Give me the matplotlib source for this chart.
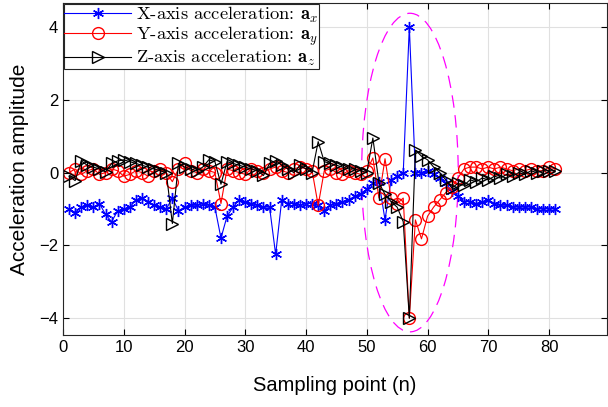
import matplotlib
matplotlib.use("Agg")
import matplotlib.pyplot as plt
from matplotlib.patches import Ellipse
import numpy as np

n = list(range(1, 82))

ax_x = [-1.0, -1.1, -0.95, -0.9, -0.95, -0.85, -1.15, -1.35, -1.05, -1.0,
        -0.95, -0.75, -0.7, -0.8, -0.9, -0.95, -1.0, -0.7, -1.05, -0.95,
        -0.9, -0.9, -0.85, -0.9, -0.95, -1.8, -1.2, -0.95, -0.75, -0.8,
        -0.85, -0.9, -0.95, -0.95, -2.25, -0.75, -0.85, -0.85, -0.9, -0.85,
        -0.85, -0.9, -1.05, -0.9, -0.85, -0.8, -0.75, -0.65, -0.6, -0.45,
        -0.3, -0.25, -1.3, -0.2, -0.1, 0.0, 4.0, 0.0, 0.0, 0.05,
        -0.05, -0.15, -0.3, -0.5, -0.65, -0.8, -0.8, -0.85, -0.8, -0.75,
        -0.85, -0.9, -0.9, -0.95, -0.95, -0.95, -0.95, -1.0, -1.0, -1.0,
        -1.0]

ay = [0.0, 0.1, -0.05, 0.05, 0.1, -0.05, 0.0, 0.1, 0.05, -0.1,
      -0.05, 0.05, 0.0, -0.1, 0.05, 0.1, 0.0, -0.25, 0.1, 0.25,
      0.05, 0.0, 0.1, 0.05, 0.0, -0.85, 0.1, 0.05, 0.0, -0.05,
      0.1, 0.05, 0.0, 0.1, 0.15, 0.05, 0.0, 0.1, 0.15, 0.1,
      0.05, -0.9, 0.05, 0.1, 0.0, -0.05, 0.05, 0.0, -0.05, 0.05,
      0.4, -0.7, 0.38, -0.7, -0.85, -0.7, -4.0, -1.3, -1.82, -1.2,
      -0.95, -0.75, -0.55, -0.4, -0.15, 0.1, 0.15, 0.15, 0.1, 0.15,
      0.1, 0.15, 0.1, 0.05, 0.1, 0.05, 0.1, 0.05, 0.05, 0.15,
      0.1]

az = [-0.1, -0.22, 0.32, 0.2, 0.15, 0.1, 0.02, 0.25, 0.32, 0.35,
      0.3, 0.25, 0.2, 0.15, 0.1, 0.05, 0.0, -1.4, 0.25, 0.15,
      0.1, 0.05, 0.15, 0.35, 0.3, -0.32, 0.3, 0.25, 0.2, 0.15,
      0.1, 0.05, -0.08, 0.25, 0.33, 0.2, 0.1, 0.0, 0.2, 0.1,
      0.0, 0.85, 0.3, 0.25, 0.2, 0.15, 0.1, 0.1, 0.05, 0.0,
      0.95, -0.28, -0.6, -0.8, -0.95, -1.35, -4.0, 0.62, 0.45, 0.35,
      0.15, 0.0, -0.2, -0.42, -0.3, -0.35, -0.2, -0.25, -0.15, -0.2,
      -0.1, -0.15, -0.05, -0.1, 0.0, -0.05, 0.05, 0.0, 0.05, 0.05,
      0.05]

labels = [r"X-axis acceleration: $\mathbf{a}_x$",
          r"Y-axis acceleration: $\mathbf{a}_y$",
          r"Z-axis acceleration: $\mathbf{a}_z$"]

x_ticks = [0, 10, 20, 30, 40, 50, 60, 70, 80]
y_ticks = [-4, -2, 0, 2, 4]

plt.rcParams['mathtext.fontset'] = 'cm'
plt.rcParams['font.family'] = ['Liberation Sans', 'DejaVu Sans']

fig = plt.figure(figsize=(6.08, 4.07), dpi=100)
ax = fig.add_axes([0.1036, 0.177, 0.8944, 0.815])

ax.plot(n, ax_x, color='blue', lw=0.8, marker=(6, 2, 0), ms=8, mew=1.0,
        label=labels[0])
ax.plot(n, ay, color='red', lw=0.8, marker='o', ms=8.5, mfc='none', mew=1.0,
        label=labels[1])
ax.plot(n, az, color='black', lw=0.8, marker='>', ms=9, mfc='none', mew=1.0,
        label=labels[2])

ell = Ellipse((57.1, 0.0), 15.9, 8.75, fill=False, edgecolor='magenta',
              lw=0.9, linestyle=(0, (10, 6)))
ax.add_patch(ell)

ax.set_xlim(0, 89.5)
ax.set_ylim(-4.46, 4.65)
ax.set_xticks(x_ticks)
ax.set_yticks(y_ticks)
ax.grid(True, color='#e0e0e0', lw=0.8)
ax.set_axisbelow(True)
ax.tick_params(direction='in', labelsize=12, length=4, top=True, right=True)
for s in ax.spines.values():
    s.set_color('#262626')
    s.set_linewidth(0.8)
ax.set_xlabel('Sampling point (n)', fontsize=14.5, labelpad=15)
ax.set_ylabel('Acceleration amplitude', fontsize=15, labelpad=7)

leg = ax.legend(loc='upper left', prop={'family': 'cmr10', 'size': 13.3},
                handlelength=3.6, borderaxespad=0.05, fancybox=False,
                edgecolor='#262626', framealpha=1, borderpad=0.02,
                labelspacing=0.0, handletextpad=0.3)
leg.get_frame().set_linewidth(0.8)

fig.savefig('out.png', dpi=100)
